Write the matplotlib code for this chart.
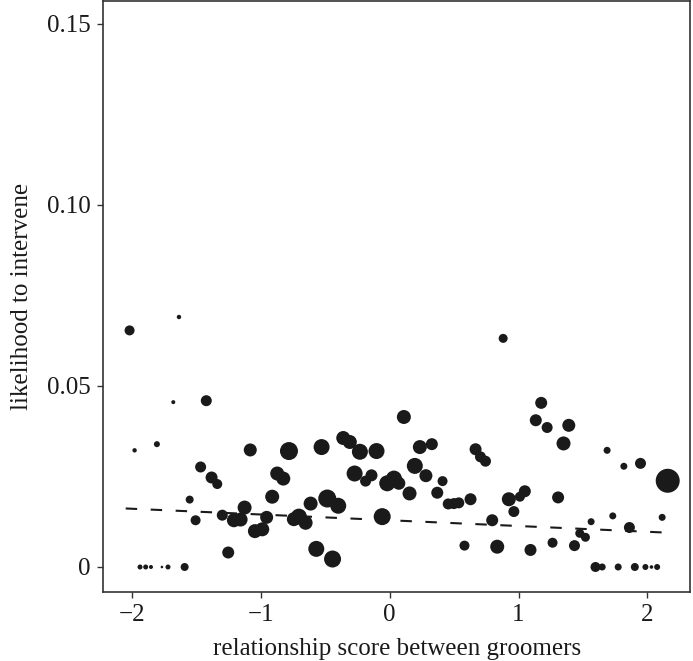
import numpy as np
import matplotlib
matplotlib.use("Agg")
import matplotlib.pyplot as plt

plt.rcParams["font.family"] = ["Liberation Serif", "DejaVu Serif"]

# relationship score (x), likelihood to intervene (y), point weight (marker radius scale)
rel_score = [
    -2.016, -1.633, -1.677, -1.421, -1.977, -1.804, -1.080, -0.780, -1.465, -1.380,
    -1.336, -0.871, -0.824, -0.910, -1.550, -1.504, -1.297, -1.207, -1.155, -1.124,
    -1.044, -0.987, -0.953, -0.742, -1.251,
    -1.935, -1.891, -1.850, -1.765, -1.718, -1.589,
    -0.527, -0.359, -0.308, -0.230, -0.101, 0.111, 0.235, 0.328, -0.271, -0.186,
    -0.140, 0.196, 0.282, -0.018, 0.034, 0.072, 0.155, 0.411, 0.370, 0.455,
    0.499, 0.537, 0.628, 0.667, 0.705, 0.744, -0.612, -0.483, -0.398, -0.703,
    -0.651, -0.057, -0.568, -0.442, 0.581,
    0.881, 1.176, 1.134, 1.222, 1.390, 1.349, 1.687, 1.817, 1.946, 2.157,
    0.925, 1.011, 1.049, 0.964, 1.307, 0.796, 0.835, 1.093, 1.264, 1.434,
    1.475, 1.519, 1.563, 1.731, 1.860, 2.114,
    1.597, 1.649, 1.773, 1.902, 1.984, 2.031, 2.075,
]
likelihood = [
    0.0653, 0.0690, 0.0455, 0.0459, 0.0322, 0.0339, 0.0323, 0.0320, 0.0276, 0.0247,
    0.0229, 0.0258, 0.0244, 0.0194, 0.0186, 0.0129, 0.0143, 0.0129, 0.0131, 0.0164,
    0.0099, 0.0104, 0.0137, 0.0132, 0.0040,
    0.0, 0.0, 0.0, 0.0, 0.0, 0.0,
    0.0331, 0.0356, 0.0345, 0.0318, 0.0320, 0.0414, 0.0331, 0.0339, 0.0258, 0.0237,
    0.0253, 0.0279, 0.0252, 0.0231, 0.0244, 0.0231, 0.0203, 0.0237, 0.0205, 0.0174,
    0.0175, 0.0177, 0.0187, 0.0325, 0.0304, 0.0292, 0.0175, 0.0189, 0.0169, 0.0139,
    0.0122, 0.0139, 0.0050, 0.0022, 0.0059,
    0.0631, 0.0453, 0.0405, 0.0385, 0.0391, 0.0341, 0.0322, 0.0278, 0.0286, 0.0238,
    0.0187, 0.0194, 0.0209, 0.0153, 0.0192, 0.0129, 0.0056, 0.0047, 0.0067, 0.0059,
    0.0093, 0.0082, 0.0125, 0.0141, 0.0109, 0.0137,
    0.0, 0.0, 0.0, 0.0, 0.0, 0.0, 0.0,
]
weight = [
    5, 2.2, 2, 5.5, 2.2, 3, 6.5, 9, 5.5, 6,
    5, 7, 7, 7, 4, 5, 5.5, 7, 7, 7,
    7, 7, 6.5, 7, 6,
    2.5, 2.5, 2, 1.3, 2.5, 4,
    8, 7, 7, 8, 8, 7, 7, 6, 8, 5.5,
    6, 8, 6.5, 8, 8, 6.5, 7, 5, 6, 5.5,
    5.5, 5.5, 6, 6, 5.5, 5.5, 7, 9, 8, 8,
    7, 8.5, 8, 8.5, 5,
    4.5, 6, 6, 5.5, 6.5, 7, 3.5, 3.5, 5.5, 12,
    7, 5, 6, 5.5, 6, 6, 7, 6, 5, 5.5,
    4.5, 4.5, 3.5, 3.5, 5.5, 3.5,
    5, 3.5, 3.5, 4, 3, 1.8, 3,
]

# fitted model (intercept, slope)
fit_intercept = 0.0129
fit_slope = -0.00159

x = np.array(rel_score)
y = np.array(likelihood)
w = np.array(weight)

fig = plt.figure(figsize=(6.93, 6.61), dpi=100)
ax = fig.add_axes([0.149, 0.1044, 0.8467, 0.894])

ax.scatter(x, y, s=(w * 1.44) ** 2, c="#1a1a1a", edgecolors="none", zorder=2)

xs = np.array([x.min() - 0.03, x.max() + 0.02])
ax.plot(xs, fit_intercept + fit_slope * xs, color="#1a1a1a", lw=1.5,
        linestyle=(0, (5.5, 6.5)), zorder=3)

ax.set_xlim(-2.22, 2.33)
ax.set_ylim(-0.0069, 0.1562)
ax.set_xticks([-2, -1, 0, 1, 2])
ax.set_yticks([0, 0.05, 0.10, 0.15])
ax.set_yticklabels(["0", "0.05", "0.10", "0.15"])

for sp in ax.spines.values():
    sp.set_color("#333333")
    sp.set_linewidth(1.2)
ax.tick_params(direction="out", length=4, width=1.0, color="#333333",
               labelsize=18, labelcolor="#1a1a1a", pad=5)

ax.set_xlabel("relationship score between groomers", fontsize=18, color="#1a1a1a", labelpad=8)
ax.set_ylabel("likelihood to intervene", fontsize=18, color="#1a1a1a", labelpad=10)

fig.savefig("out.png", dpi=100)
